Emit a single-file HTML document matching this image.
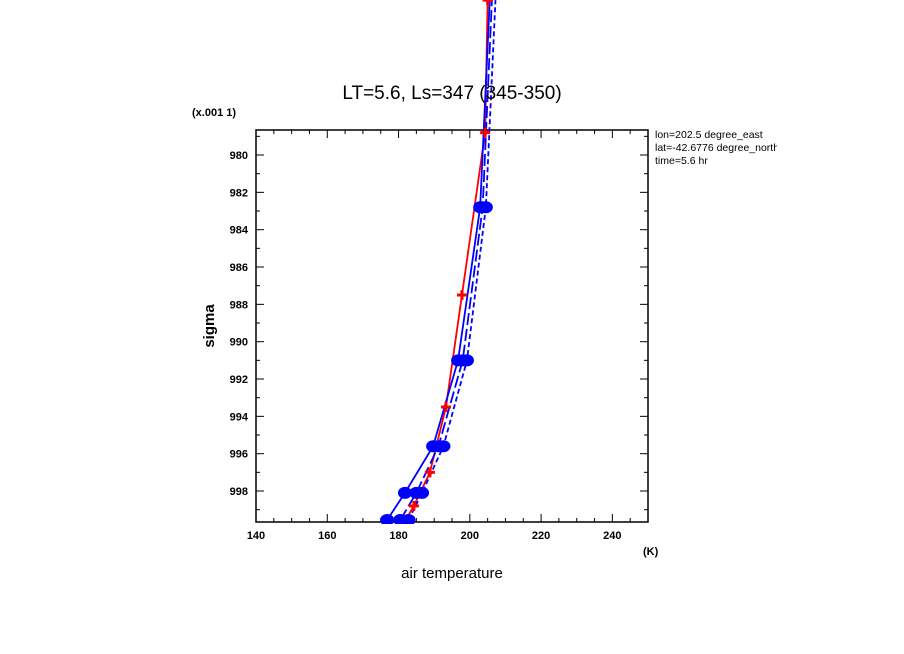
<!DOCTYPE html>
<html><head><meta charset="utf-8"><style>
html,body{margin:0;padding:0;background:#fff;}
svg{display:block;font-family:"Liberation Sans","DejaVu Sans",sans-serif;}
</style></head><body>
<svg id="c" width="904" height="654" viewBox="0 0 904 654">
<defs><clipPath id="rc"><rect x="640" y="120" width="137" height="60"/></clipPath>
<clipPath id="pc"><rect x="256" y="0" width="392" height="524"/></clipPath></defs>
<g id="axes"></g>
<g id="series" clip-path="url(#pc)"></g>
<text x="452" y="99" font-size="19" text-anchor="middle">LT=5.6, Ls=347 (345-350)</text>
<text x="192" y="116" font-size="11" font-weight="bold">(x.001 1)</text>
<text x="643" y="555" font-size="11" font-weight="bold">(K)</text>
<text x="452" y="578" font-size="15" text-anchor="middle">air temperature</text>
<text transform="translate(214,326) rotate(-90)" font-size="15" font-weight="bold" text-anchor="middle">sigma</text>
<g clip-path="url(#rc)" font-size="10.5">
<text x="655" y="138">lon=202.5 degree_east</text>
<text x="655" y="151">lat=-42.6776 degree_north</text>
<text x="655" y="164">time=5.6 hr</text>
</g>
</svg>
<script>
const xTicks=[140,160,180,200,220,240];
const yTicks=[980,982,984,986,988,990,992,994,996,998];
const blueSigma=[999.55,998.1,995.6,991.0,982.8,971.7];
const blueSolid=[176.8,181.8,189.7,196.7,202.9,205.6];
const blueLong=[180.5,185.0,191.2,198.0,203.6,206.2];
const blueShort=[182.8,186.6,192.6,199.2,204.5,207.2];
const redSigma=[999.7,998.8,997.0,993.5,987.5,978.8,971.7];
const redTemp=[181.5,184.3,188.8,193.3,197.8,204.3,205.0];
const X0=256,X1=648,T0=140,T1=250,Y0=130,Y1=522,S0=978.66,S1=999.66;
const sx=t=>X0+(t-T0)/(T1-T0)*(X1-X0);
const sy=s=>Y0+(s-S0)/(S1-S0)*(Y1-Y0);
const NS="http://www.w3.org/2000/svg";
function mk(tag,a,p){const e=document.createElementNS(NS,tag);for(const k in a)e.setAttribute(k,a[k]);p.appendChild(e);return e;}
const ax=document.getElementById('axes');
let fr=mk('rect',{x:X0,y:Y0,width:X1-X0,height:Y1-Y0,fill:'none',stroke:'#000','stroke-width':1.5},ax);


for(let t=140;t<=250;t+=5){const x=sx(t);const L=(t%20===0)?8:4;mk('line',{x1:x,y1:Y1,x2:x,y2:Y1-L,stroke:'#000'},ax);mk('line',{x1:x,y1:Y0,x2:x,y2:Y0+L,stroke:'#000'},ax);}
xTicks.forEach(t=>{const e=mk('text',{x:sx(t),y:Y1+17,'font-size':11,'font-weight':'bold','text-anchor':'middle'},ax);e.textContent=t;

});
for(let s=979;s<=999;s+=1){const y=sy(s);if(y<Y0||y>Y1)continue;const L=(s%2===0)?8:4;mk('line',{x1:X0,y1:y,x2:X0+L,y2:y,stroke:'#000'},ax);mk('line',{x1:X1,y1:y,x2:X1-L,y2:y,stroke:'#000'},ax);}
yTicks.forEach(s=>{const e=mk('text',{x:X0-8,y:sy(s)+4,'font-size':11,'font-weight':'bold','text-anchor':'end'},ax);e.textContent=s;

});
const sg=document.getElementById('series');
function line(T,S,color,dash,name){const d=T.map((t,i)=>(i?'L':'M')+sx(t)+','+sy(S[i])).join(' ');
const p=mk('path',{d:d,fill:'none',stroke:color,'stroke-width':1.8,'stroke-dasharray':dash},sg);

}
line(redTemp,redSigma,'#f00','none','red-line');
line(blueSolid,blueSigma,'#00f','none','blue-solid-line');
line(blueLong,blueSigma,'#00f','12 4','blue-long-dash-line');
line(blueShort,blueSigma,'#00f','5 3','blue-short-dash-line');
redTemp.forEach((t,i)=>{const x=sx(t),y=sy(redSigma[i]);const g=mk('path',{d:`M${x-5},${y}h10M${x},${y-5}v10`,stroke:'#f00','stroke-width':3},sg);

});
[blueSolid,blueLong,blueShort].forEach(T=>T.forEach((t,i)=>{if(i>4)return;const c=mk('ellipse',{cx:sx(t),cy:sy(blueSigma[i]),rx:7,ry:6,fill:'#00f'},sg);

}));
</script>
</body></html>
